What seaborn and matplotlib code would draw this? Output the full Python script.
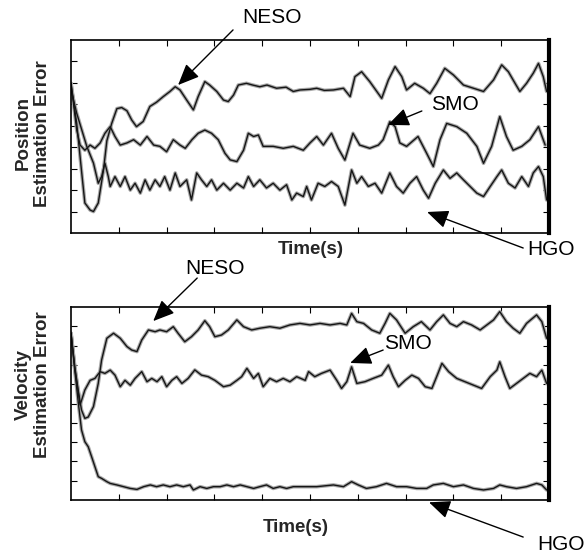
import numpy as np
import pandas as pd
import matplotlib
matplotlib.use("Agg")
import matplotlib.pyplot as plt
import seaborn as sns

# ---------------- data ----------------
# Top panel: position estimation error (y axis 0..9, x axis 0..10)
pos_neso_t = [0.0, 0.12, 0.22, 0.29, 0.4, 0.47, 0.57, 0.68, 0.75, 0.85, 0.96, 1.06, 1.17, 1.27, 1.37,
              1.51, 1.65, 1.79, 1.93, 2.07, 2.18, 2.28, 2.42, 2.56, 2.66, 2.8, 2.9, 3.05, 3.19, 3.29,
              3.4, 3.5, 3.67, 3.8, 3.95, 4.1, 4.3, 4.5, 4.65, 4.79, 5.0, 5.14, 5.3, 5.49, 5.7, 5.84,
              5.94, 6.08, 6.25, 6.5, 6.64, 6.78, 6.92, 7.02, 7.19, 7.37, 7.51, 7.65, 7.82, 8.0, 8.21,
              8.42, 8.63, 8.84, 9.01, 9.15, 9.29, 9.39, 9.53, 9.67, 9.78, 9.88, 9.95]
pos_neso = [6.98, 5.1, 2.9, 1.4, 1.07, 1.0, 1.4, 2.94, 4.3, 5.1, 5.8, 5.85, 5.7, 5.27, 4.96,
            5.2, 5.9, 6.1, 6.36, 6.6, 6.82, 6.67, 6.2, 5.74, 6.36, 7.06, 6.9, 6.6, 6.2, 6.13,
            6.43, 6.9, 6.98, 6.9, 6.82, 6.9, 6.75, 6.8, 6.6, 6.67, 6.7, 6.75, 6.65, 6.67, 6.75, 6.36,
            7.29, 7.52, 7.06, 6.28, 7.14, 7.76, 7.29, 6.67, 6.98, 6.75, 6.5, 6.98, 7.68, 7.37, 6.9,
            6.75, 6.6, 7.14, 7.84, 7.52, 6.98, 6.6, 6.98, 7.45, 7.91, 7.29, 6.6]

pos_smo_t = [0.0, 0.12, 0.19, 0.29, 0.4, 0.5, 0.61, 0.71, 0.82, 0.92, 1.03, 1.17, 1.31, 1.45, 1.59,
             1.73, 1.86, 2.0, 2.14, 2.28, 2.39, 2.53, 2.66, 2.8, 2.94, 3.08, 3.22, 3.33, 3.47, 3.61,
             3.71, 3.82, 3.92, 4.02, 4.23, 4.44, 4.65, 4.86, 5.0, 5.14, 5.28, 5.45, 5.59, 5.73, 5.9,
             6.04, 6.25, 6.43, 6.53, 6.67, 6.78, 6.88, 7.02, 7.26, 7.44, 7.58, 7.72, 7.86, 8.07, 8.28,
             8.49, 8.63, 8.8, 8.97, 9.11, 9.25, 9.43, 9.6, 9.78, 9.92]
pos_smo = [6.98, 4.8, 4.1, 3.86, 4.1, 3.95, 4.2, 4.65, 4.96, 4.5, 4.1, 4.2, 4.35, 4.1, 4.5,
           4.1, 4.04, 3.79, 4.35, 4.1, 3.95, 4.35, 4.65, 4.8, 4.65, 4.35, 3.72, 3.41, 3.33, 3.86,
           4.65, 4.5, 4.57, 4.04, 4.04, 3.95, 4.04, 3.86, 4.2, 4.5, 4.1, 4.65, 3.95, 3.4, 4.65,
           4.1, 3.95, 4.1, 4.35, 5.19, 4.96, 4.2, 4.04, 4.5, 3.72, 3.1, 4.35, 5.11, 4.96, 4.65,
           4.04, 3.25, 4.04, 5.43, 4.5, 3.86, 4.04, 4.35, 4.96, 4.1]

pos_hgo_t = [0.0, 0.12, 0.33, 0.47, 0.57, 0.64, 0.71, 0.78, 0.82, 0.92, 1.03, 1.13, 1.24, 1.34, 1.45,
             1.55, 1.65, 1.76, 1.86, 1.96, 2.07, 2.18, 2.28, 2.42, 2.52, 2.63, 2.73, 2.84, 2.94, 3.05,
             3.19, 3.33, 3.47, 3.61, 3.71, 3.82, 3.95, 4.09, 4.23, 4.37, 4.51, 4.62, 4.72, 4.86, 4.93,
             5.03, 5.17, 5.31, 5.45, 5.59, 5.73, 5.87, 5.98, 6.08, 6.22, 6.36, 6.5, 6.67, 6.81, 6.95,
             7.09, 7.23, 7.37, 7.48, 7.62, 7.79, 7.93, 8.07, 8.21, 8.35, 8.49, 8.63, 8.77, 8.91, 9.01,
             9.15, 9.29, 9.43, 9.57, 9.67, 9.78, 9.88, 9.95]
pos_hgo = [6.7, 5.58, 4.04, 3.26, 2.32, 2.63, 3.26, 2.63, 2.17, 2.63, 2.17, 2.63, 2.0, 2.32, 1.86,
           2.48, 2.0, 2.48, 2.17, 2.63, 2.0, 2.8, 2.17, 2.48, 1.54, 2.8, 2.48, 2.17, 2.48, 2.0,
           2.32, 2.0, 2.32, 2.1, 2.63, 2.17, 2.48, 2.1, 2.32, 2.0, 2.25, 1.54, 1.86, 1.7, 2.17,
           1.54, 2.32, 2.17, 2.4, 2.17, 1.3, 2.94, 2.32, 2.63, 2.17, 2.32, 1.86, 2.8, 2.17, 1.86,
           2.32, 2.63, 2.0, 1.62, 2.32, 2.94, 2.55, 2.8, 2.48, 2.17, 1.86, 1.7, 2.17, 2.63, 2.94,
           2.32, 2.1, 2.63, 2.17, 2.8, 3.1, 2.63, 1.54]

# Bottom panel: velocity estimation error (y axis 0..10, x axis 0..10)
vel_neso_t = [0.0, 0.08, 0.15, 0.22, 0.29, 0.36, 0.47, 0.57, 0.64, 0.75, 0.89, 1.03, 1.17, 1.27, 1.38,
              1.48, 1.62, 1.76, 1.86, 2.0, 2.14, 2.24, 2.38, 2.52, 2.66, 2.8, 2.9, 3.01, 3.15, 3.29,
              3.47, 3.61, 3.78, 3.95, 4.16, 4.37, 4.58, 4.79, 5.0, 5.21, 5.42, 5.63, 5.77, 5.87, 5.98,
              6.12, 6.29, 6.46, 6.57, 6.67, 6.81, 6.99, 7.16, 7.33, 7.51, 7.65, 7.79, 7.93, 8.07, 8.21,
              8.38, 8.56, 8.7, 8.84, 8.97, 9.11, 9.25, 9.39, 9.53, 9.74, 9.85, 9.95]
vel_neso = [8.64, 6.9, 5.7, 4.66, 4.23, 4.3, 4.84, 6.04, 7.25, 8.38, 8.64, 8.38, 7.95, 7.77, 7.69,
            8.29, 8.81, 8.72, 8.81, 8.72, 8.98, 8.64, 8.2, 8.46, 8.81, 9.29, 8.98, 8.46, 8.55, 8.81,
            9.33, 8.98, 8.81, 8.9, 8.98, 8.9, 9.07, 9.15, 9.07, 9.15, 9.07, 9.15, 9.07, 9.67, 9.24,
            9.15, 8.81, 8.64, 9.15, 9.67, 9.33, 8.64, 8.98, 9.24, 8.81, 9.24, 9.59, 9.15, 8.98, 9.24,
            9.07, 8.81, 9.07, 9.33, 9.76, 9.24, 8.9, 8.64, 9.15, 9.59, 9.24, 8.38]

vel_smo_t = [0.0, 0.08, 0.19, 0.29, 0.4, 0.5, 0.61, 0.71, 0.82, 0.92, 1.03, 1.13, 1.24, 1.34, 1.48,
             1.59, 1.69, 1.8, 1.9, 2.0, 2.11, 2.21, 2.32, 2.45, 2.59, 2.73, 2.87, 3.01, 3.19, 3.33,
             3.47, 3.57, 3.68, 3.82, 3.92, 4.02, 4.16, 4.3, 4.44, 4.58, 4.72, 4.9, 4.97, 5.1, 5.24,
             5.42, 5.56, 5.66, 5.77, 5.87, 5.98, 6.15, 6.32, 6.5, 6.64, 6.74, 6.85, 6.99, 7.13, 7.27,
             7.41, 7.55, 7.65, 7.76, 7.9, 8.07, 8.24, 8.42, 8.59, 8.77, 8.91, 8.97, 9.08, 9.18, 9.32,
             9.46, 9.6, 9.74, 9.85, 9.95]
vel_smo = [8.64, 6.8, 4.92, 5.7, 6.2, 6.3, 6.65, 6.56, 6.73, 6.47, 5.87, 6.2, 5.95, 6.3, 6.65,
           6.13, 6.3, 6.13, 6.39, 5.87, 6.2, 6.39, 6.04, 6.3, 6.74, 6.47, 6.39, 6.2, 5.87, 5.95,
           6.2, 6.39, 6.82, 6.3, 6.56, 5.87, 6.3, 6.13, 6.3, 6.13, 6.39, 6.2, 6.65, 6.39, 6.56,
           6.73, 6.2, 5.78, 6.13, 6.9, 6.04, 6.13, 6.3, 6.47, 6.99, 6.39, 5.87, 6.2, 6.47, 6.3,
           5.87, 5.78, 6.39, 7.08, 6.65, 6.3, 6.13, 5.95, 5.78, 6.39, 6.73, 7.16, 6.39, 5.78, 6.04,
           6.3, 6.56, 6.39, 6.73, 6.04]

vel_hgo_t = [0.0, 0.08, 0.15, 0.22, 0.29, 0.36, 0.43, 0.5, 0.57, 0.64, 0.75, 0.82, 0.96, 1.1, 1.24,
             1.38, 1.52, 1.66, 1.79, 1.93, 2.07, 2.21, 2.35, 2.49, 2.56, 2.7, 2.84, 2.98, 3.12, 3.26,
             3.4, 3.54, 3.68, 3.82, 3.95, 4.09, 4.23, 4.37, 4.51, 4.65, 4.79, 5.14, 5.49, 5.7, 5.87,
             6.01, 6.18, 6.39, 6.6, 6.81, 7.02, 7.23, 7.44, 7.58, 7.79, 8.0, 8.21, 8.42, 8.63, 8.84,
             8.97, 9.11, 9.32, 9.53, 9.74, 9.85, 9.95]
vel_hgo = [8.64, 6.7, 5.1, 3.63, 3.02, 2.76, 2.25, 1.73, 1.21, 1.12, 0.95, 0.86, 0.78, 0.69, 0.6,
           0.55, 0.69, 0.78, 0.69, 0.78, 0.69, 0.78, 0.69, 0.78, 0.52, 0.69, 0.6, 0.69, 0.69, 0.78,
           0.69, 0.78, 0.69, 0.6, 0.69, 0.78, 0.6, 0.69, 0.6, 0.69, 0.69, 0.69, 0.78, 0.69, 0.95,
           0.78, 0.6, 0.69, 0.86, 0.69, 0.69, 0.6, 0.6, 0.78, 0.86, 0.69, 0.78, 0.6, 0.52, 0.6,
           0.78, 0.69, 0.6, 0.69, 0.86, 0.78, 0.52]

series_names = ["NESO", "SMO", "HGO"]
x_label = "Time(s)"
y_labels = ["Position\nEstimation Error", "Velocity\nEstimation Error"]


def long_frame(ts, ys):
    parts = []
    for name, t, y in zip(series_names, ts, ys):
        parts.append(pd.DataFrame({"t": t, "v": y, "s": name}))
    return pd.concat(parts, ignore_index=True)


df_pos = long_frame([pos_neso_t, pos_smo_t, pos_hgo_t], [pos_neso, pos_smo, pos_hgo])
df_vel = long_frame([vel_neso_t, vel_smo_t, vel_hgo_t], [vel_neso, vel_smo, vel_hgo])

# ---------------- styling ----------------
sns.set_theme(style="white")
plt.rcParams["font.family"] = ["Liberation Sans", "DejaVu Sans"]

fig = plt.figure(figsize=(5.85, 5.59), dpi=100)
ax1 = fig.add_axes([71 / 585, 1 - 233 / 559, 478 / 585, 193 / 559])
ax2 = fig.add_axes([71 / 585, 1 - 500 / 559, 478 / 585, 193 / 559])

halo = {n: "#a8a8a8" for n in series_names}
core = {n: "#151515" for n in series_names}

for ax, df, ymax in [(ax1, df_pos, 9), (ax2, df_vel, 10)]:
    sns.lineplot(data=df, x="t", y="v", hue="s", palette=halo, sort=False,
                 estimator=None, lw=2.6, legend=False, ax=ax)
    sns.lineplot(data=df, x="t", y="v", hue="s", palette=core, sort=False,
                 estimator=None, lw=1.0, legend=False, ax=ax)
    ax.set_xlim(0, 10)
    ax.set_ylim(0, ymax)
    ax.set_xticks(np.arange(1, 10))
    ax.set_yticks(np.arange(1, ymax))
    ax.tick_params(direction="in", length=4, width=0.8, color="black",
                   top=True, right=True, bottom=True, left=True,
                   labelbottom=False, labelleft=False)
    ax.set_xlabel("")
    ax.set_ylabel("")
    for side in ["left", "top", "bottom"]:
        ax.spines[side].set_color("black")
        ax.spines[side].set_linewidth(1.2)
    ax.spines["right"].set_color("black")
    ax.spines["right"].set_linewidth(3.0)

label_kw = dict(fontsize=13.5, fontweight="bold", ha="center", va="center")
ax1.text(-0.08, 0.516, y_labels[0], rotation=90, transform=ax1.transAxes, linespacing=1.15, **label_kw)
ax2.text(-0.08, 0.60, y_labels[1], rotation=90, transform=ax2.transAxes, linespacing=1.15, **label_kw)
ax1.text(0.502, -0.088, x_label, transform=ax1.transAxes, **label_kw)
ax2.text(0.47, -0.142, x_label, transform=ax2.transAxes, **label_kw)

arrow_kw = dict(arrowstyle="-|>,head_length=0.65,head_width=0.28", color="black",
                lw=1.0, mutation_scale=20, shrinkA=0, shrinkB=0)
txt_kw = dict(fontsize=15, ha="center", va="center", annotation_clip=False, color="black")

# top panel annotations: (tip, tail, text position)
ax1.annotate("", xy=(2.24, 6.9), xytext=(3.39, 9.47), arrowprops=arrow_kw, annotation_clip=False)
ax1.annotate(series_names[0], xy=(4.2, 10.05), **txt_kw)
ax1.annotate("", xy=(6.63, 5.04), xytext=(7.34, 5.69), arrowprops=arrow_kw, annotation_clip=False)
ax1.annotate(series_names[1], xy=(8.03, 5.97), **txt_kw)
ax1.annotate("", xy=(7.45, 0.98), xytext=(9.46, -0.70), arrowprops=arrow_kw, annotation_clip=False)
ax1.annotate(series_names[2], xy=(10.04, -0.77), **txt_kw)

# bottom panel annotations
ax2.annotate("", xy=(1.72, 9.27), xytext=(2.64, 11.5), arrowprops=arrow_kw, annotation_clip=False)
ax2.annotate(series_names[0], xy=(3.01, 12.0), **txt_kw)
ax2.annotate("", xy=(5.84, 7.10), xytext=(6.53, 7.77), arrowprops=arrow_kw, annotation_clip=False)
ax2.annotate(series_names[1], xy=(7.04, 8.1), **txt_kw)
ax2.annotate("", xy=(7.49, -0.12), xytext=(9.46, -1.92), arrowprops=arrow_kw, annotation_clip=False)
ax2.annotate(series_names[2], xy=(10.25, -2.33), **txt_kw)

fig.savefig("out.png", dpi=100)
